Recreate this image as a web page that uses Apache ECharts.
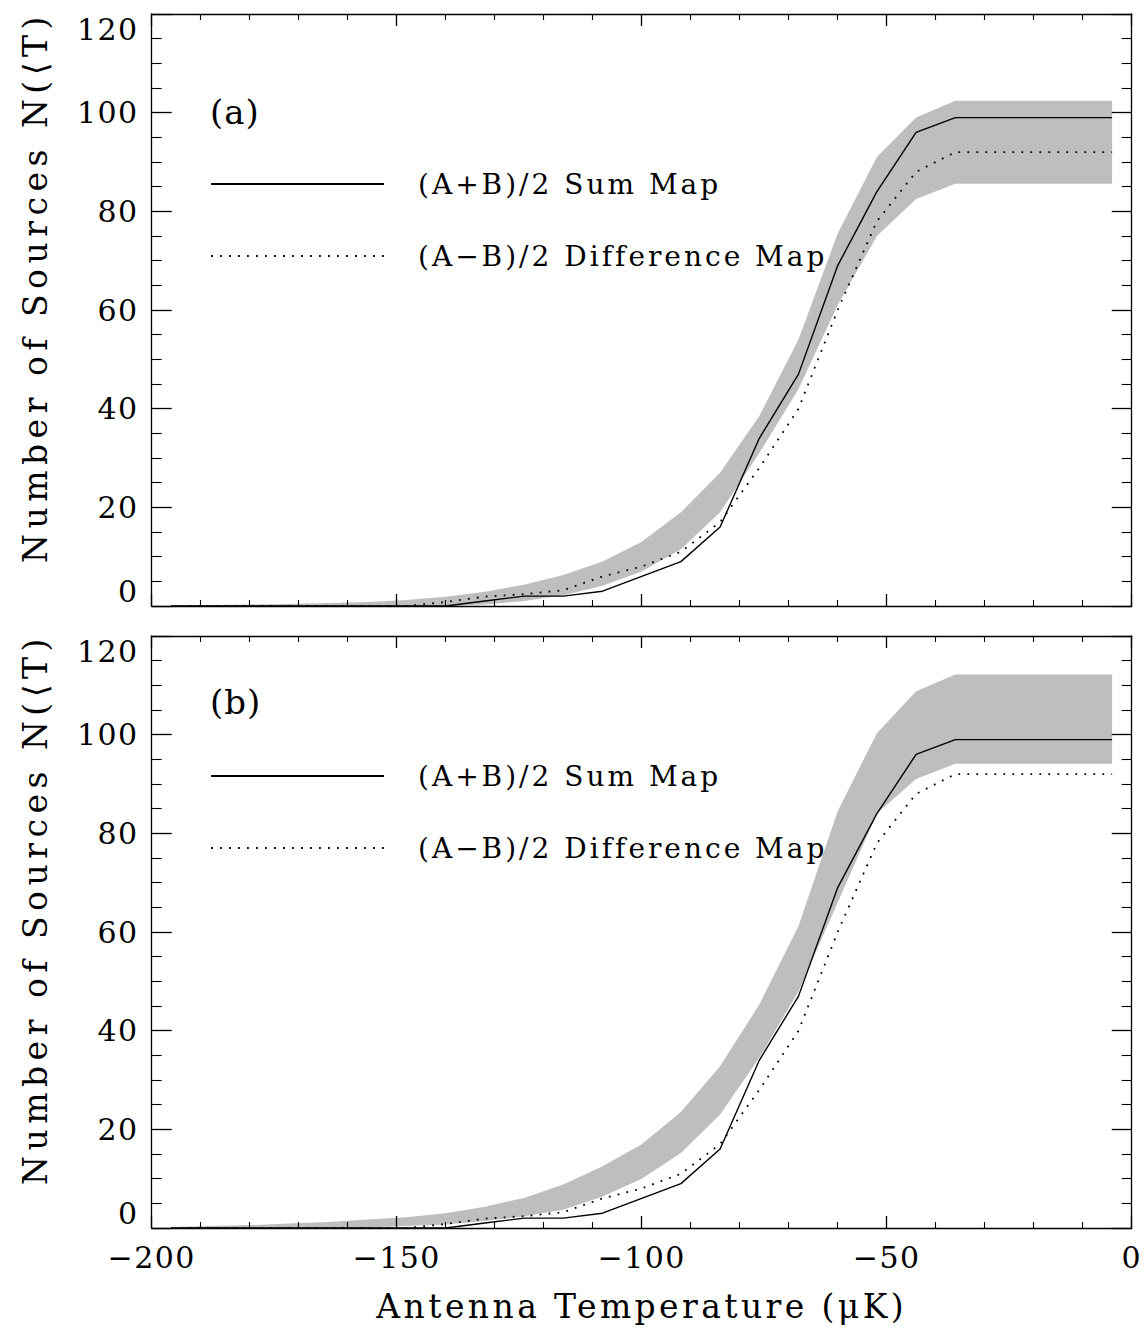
<!DOCTYPE html>
<html>
<head>
<meta charset="utf-8">
<script src="https://cdn.jsdelivr.net/npm/echarts@6/dist/echarts.min.js"></script>
<style>
html,body{margin:0;padding:0;background:#fff;}
#chart{width:1146px;height:1336px;}
</style>
</head>
<body>
<div id="chart"></div>
<script>
// ---- data ----
var temps = [-196,-188,-180,-172,-164,-156,-148,-140,-132,-124,-116,-108,-100,-92,-84,-76,-68,-60,-52,-44,-36,-28,-20,-12,-4];
var sumMap = [0,0,0,0,0,0,0,0,1,2,2,3,6,9,16,34,47,69,84,96,99,99,99,99,99];
var diffMap = [0,0,0,0,0,0,0,0.8,1.9,2.4,3.2,6,8,11,17,28,40,60,78,88,92,92,92,92,92];
var bandAUpper = [0.1,0.2,0.3,0.4,0.6,0.8,1.2,1.9,2.9,4.3,6.3,9,13,19,27,38.5,54,75.5,91,99,102.4,102.4,102.4,102.4,102.4];
var bandALower = [0,0,0,0,0,0,0,0,0.3,1,2.2,4.1,7,11.5,19,31,44,61,75,82.5,85.6,85.6,85.6,85.6,85.6];
var bandBUpper = [0.2,0.4,0.6,0.9,1.2,1.7,2.2,3,4.3,6.1,8.8,12.5,17,23.5,32.8,45.3,61.2,84.5,100.3,108.8,112.2,112.2,112.2,112.2,112.2];
var bandBLower = [0,0,0,0,0,0.1,0.4,0.7,1.4,2.4,3.7,6.4,10,15.2,23,34.5,48,66,84,91,94.1,94.1,94.1,94.1,94.1];
var xTicks = [-200,-150,-100,-50,0];
var yTicks = [0,20,40,60,80,100,120];
var panelLabels = ['(a)','(b)'];
var seriesNames = ['(A+B)/2 Sum Map','(A\u2212B)/2 Difference Map'];
var xTitle = 'Antenna Temperature (\u03bcK)';
var yTitle = 'Number of Sources N(\u27e8T)';

// ---- helpers ----
function pairs(xs, ys){ return xs.map(function(x,i){ return [x, ys[i]]; }); }
var FONT = 'DejaVu Serif';
var BLACK = '#000';
var GREY = '#bebebe';

var gridTops = [14, 636];
var grids = gridTops.map(function(t){ return {left:151.7, top:t, width:980, height:592, containLabel:false}; });

function xAxisDef(gi, pos, showLabels){
  return {
    type:'value', gridIndex:gi, position:pos,
    min:xTicks[0], max:xTicks[xTicks.length-1], interval:50,
    axisLine:{show:true, onZero:false, lineStyle:{color:BLACK, width:1.3}},
    axisTick:{show:true, inside:true, length:12, lineStyle:{color:BLACK, width:1.3}},
    minorTick:{show:true, splitNumber:5, length:6, lineStyle:{color:BLACK, width:1.1}},
    splitLine:{show:false}, minorSplitLine:{show:false},
    axisLabel:{show:showLabels, margin:14, fontFamily:FONT, fontSize:30, color:BLACK,
      formatter:function(v){ return v < 0 ? '\u2212' + Math.abs(v) : String(v); }},
    name: (showLabels ? xTitle : ''), nameLocation:'middle', nameGap:62,
    nameTextStyle:{fontFamily:FONT, fontSize:33, color:BLACK},
    z:10
  };
}
function yAxisDef(gi, pos, showLabels){
  return {
    type:'value', gridIndex:gi, position:pos,
    min:yTicks[0], max:yTicks[yTicks.length-1], interval:20,
    axisLine:{show:true, onZero:false, lineStyle:{color:BLACK, width:1.3}},
    axisTick:{show:true, inside:true, length:20, lineStyle:{color:BLACK, width:1.3}},
    minorTick:{show:true, splitNumber:4, length:10, lineStyle:{color:BLACK, width:1.1}},
    splitLine:{show:false}, minorSplitLine:{show:false},
    axisLabel:{show:showLabels, margin:13, fontFamily:FONT, fontSize:30, color:BLACK,
      verticalAlignMinLabel:'bottom', verticalAlignMaxLabel:'top'},
    name: (showLabels ? yTitle : ''), nameLocation:'middle', nameGap:100, nameRotate:90,
    nameTextStyle:{fontFamily:FONT, fontSize:33, color:BLACK, padding:[0,0,0,46]},
    z:10
  };
}

var xAxes = [xAxisDef(0,'bottom',false), xAxisDef(0,'top',false), xAxisDef(1,'bottom',true), xAxisDef(1,'top',false)];
var yAxes = [yAxisDef(0,'left',true), yAxisDef(0,'right',false), yAxisDef(1,'left',true), yAxisDef(1,'right',false)];

var bands = [[bandAUpper, bandALower],[bandBUpper, bandBLower]];
var series = [];
[0,1].forEach(function(p){
  var xi = p*2, yi = p*2;
  var up = bands[p][0], lo = bands[p][1];
  series.push({
    type:'custom', name:'band'+p, xAxisIndex:xi, yAxisIndex:yi,
    data:[[temps[0], lo[0]]], silent:true, z:1,
    renderItem:function(params, api){
      var pts = [];
      for (var i = 0; i < temps.length; i++) pts.push(api.coord([temps[i], up[i]]));
      for (var j = temps.length - 1; j >= 0; j--) pts.push(api.coord([temps[j], lo[j]]));
      return {type:'polygon', shape:{points:pts}, style:{fill:GREY, stroke:null}};
    }
  });
  series.push({
    type:'line', name:seriesNames[0], xAxisIndex:xi, yAxisIndex:yi,
    data:pairs(temps, sumMap), symbol:'none', color:BLACK,
    lineStyle:{color:BLACK, width:1.4, type:'solid'}, z:3
  });
  series.push({
    type:'line', name:seriesNames[1], xAxisIndex:xi, yAxisIndex:yi,
    data:pairs(temps, diffMap), symbol:'none', color:BLACK,
    lineStyle:{color:BLACK, width:1.8, type:[1.8,7.2], cap:'butt'}, z:3
  });
});

function legendDef(top){
  return {
    data:seriesNames, orient:'vertical', left:205, top:top,
    itemWidth:173, itemHeight:30, itemGap:44,
    selectedMode:false,
    itemStyle:{opacity:0},
    textStyle:{fontFamily:FONT, fontSize:28, color:BLACK, padding:[0,0,0,29]}
  };
}

var option = {
  animation:false,
  backgroundColor:'#fff',
  title:[
    {text:panelLabels[0], left:205, top:90, textStyle:{fontFamily:FONT, fontSize:34, fontWeight:'normal', color:BLACK}},
    {text:panelLabels[1], left:205, top:680, textStyle:{fontFamily:FONT, fontSize:34, fontWeight:'normal', color:BLACK}}
  ],
  legend:[legendDef(165), legendDef(757)],
  grid:grids,
  xAxis:xAxes,
  yAxis:yAxes,
  series:series
};

var dom = document.getElementById('chart');
var chart = echarts.init(dom, null, {renderer:'svg'});
chart.setOption(option);

function applySpacing(){
  var texts = dom.querySelectorAll('text');
  texts.forEach(function(t){
    var s = t.textContent || '';
    var ls = 1.5;
    if (s.indexOf('Antenna') === 0) ls = 3.4;
    else if (s.indexOf('Number') === 0) ls = 5.5;
    else if (s.indexOf('(A') === 0) ls = 3;
    else if (s === panelLabels[0] || s === panelLabels[1]) ls = 1;
    t.style.letterSpacing = ls + 'px';
  });
}
chart.on('finished', applySpacing);
applySpacing();
setTimeout(applySpacing, 50);
</script>
</body>
</html>
